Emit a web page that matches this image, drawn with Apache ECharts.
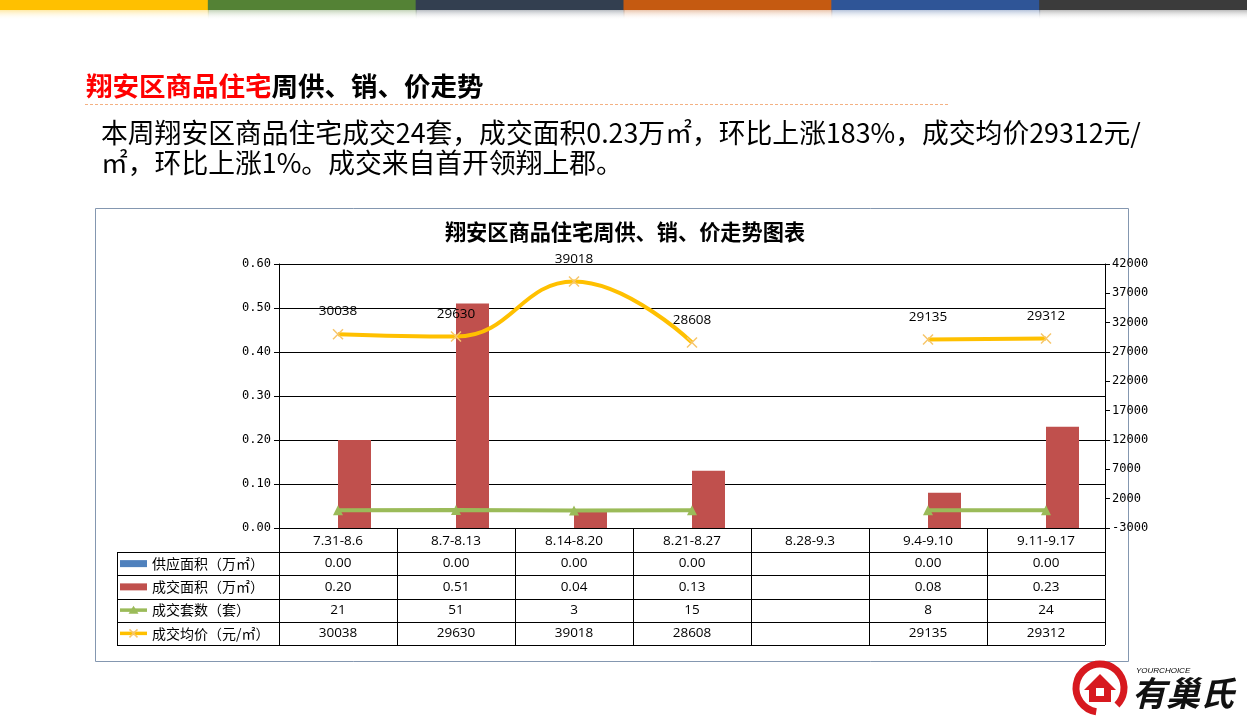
<!DOCTYPE html>
<html>
<head>
<meta charset="utf-8">
<script src="https://cdn.jsdelivr.net/npm/echarts@6/dist/echarts.min.js"></script>
<style>
html,body{margin:0;padding:0;background:#fff;}
#c{width:1247px;height:718px;}
</style>
</head>
<body>
<div id="c"></div>
<script>
// ---- data ----
const categories = ['7.31-8.6','8.7-8.13','8.14-8.20','8.21-8.27','8.28-9.3','9.4-9.10','9.11-9.17'];
const supplyArea = [0, 0, 0, 0, null, 0, 0];
const salesArea = [0.20, 0.51, 0.04, 0.13, null, 0.08, 0.23];
const salesUnits = [21, 51, 3, 15, null, 8, 24];
const avgPrice = [30038, 29630, 39018, 28608, null, 29135, 29312];
const seriesNames = ['供应面积（万㎡）', '成交面积（万㎡）', '成交套数（套）', '成交均价（元/㎡）'];
const leftAxis = {min: 0, max: 0.6, interval: 0.1};
const rightAxis = {min: -3000, max: 42000, interval: 5000};
const pageTitleRed = '翔安区商品住宅';
const pageTitleBlack = '周供、销、价走势';
const summaryLines = ['本周翔安区商品住宅成交24套，成交面积0.23万㎡，环比上涨183%，成交均价29312元/', '㎡，环比上涨1%。成交来自首开领翔上郡。'];
const chartTitle = '翔安区商品住宅周供、销、价走势图表';
const topBarColors = ['#FFC000', '#548235', '#333F50', '#C55A11', '#2F5597', '#3B3B3B'];

// ---- layout ----
const G = {left: 279, right: 1105, top: 264, bottom: 528};
const colW = (G.right - G.left) / categories.length;
const tableLeft = 117, tableBottom = 645;
const rowTop = 552, rowH = (tableBottom - rowTop) / 4;
const colors = ['#4F81BD', '#C0504D', '#9BBB59', '#FFC000'];
const xPath = 'path://M0,0L10,10M10,0L0,10';

const graphic = [];
// top stripes
const segW = 1247 / topBarColors.length;
topBarColors.forEach((c, i) => {
  graphic.push({type: 'rect', shape: {x: i * segW, y: 0, width: segW + 1, height: 10}, style: {fill: c}, silent: true});
  graphic.push({type: 'rect', shape: {x: i * segW, y: 10, width: segW + 1, height: 10},
    style: {fill: new echarts.graphic.LinearGradient(0, 0, 0, 1, [{offset: 0, color: c}, {offset: 1, color: 'rgba(255,255,255,0)'}]), opacity: 0.35}, silent: true});
});
// page title
graphic.push({type: 'text', x: 86, y: 86, style: {
  text: '{r|' + pageTitleRed + '}{b|' + pageTitleBlack + '}',
  verticalAlign: 'middle',
  rich: {
    r: {fill: '#FF0000', fontSize: 26.5, fontWeight: 'bold', fontFamily: 'Noto Sans CJK SC'},
    b: {fill: '#000', fontSize: 26.5, fontWeight: 'bold', fontFamily: 'Noto Sans CJK SC'}
  }}});
graphic.push({type: 'line', shape: {x1: 85, y1: 104.5, x2: 948, y2: 104.5}, style: {stroke: '#F4B183', lineWidth: 1, lineDash: [3, 2]}});
// summary
summaryLines.forEach((t, i) => {
  graphic.push({type: 'text', x: 101, y: 133 + i * 30, style: {text: t, fill: '#000', fontSize: 26.8, fontFamily: 'Noto Sans CJK SC', verticalAlign: 'middle'}});
});
// chart box
graphic.push({type: 'rect', shape: {x: 95.5, y: 208.5, width: 1033, height: 453}, style: {fill: 'none', stroke: '#8497B0', lineWidth: 1}});
graphic.push({type: 'text', x: 625, y: 232, style: {text: chartTitle, fill: '#000', fontSize: 21.2, fontWeight: 'bold', fontFamily: 'Noto Sans CJK SC', align: 'center', verticalAlign: 'middle'}});
// table horizontal lines
for (let r = 0; r <= 4; r++) {
  const y = Math.round(rowTop + r * rowH) + 0.5;
  graphic.push({type: 'line', shape: {x1: tableLeft, y1: y, x2: G.right, y2: y}, style: {stroke: '#000', lineWidth: 1}});
}
graphic.push({type: 'line', shape: {x1: tableLeft + 0.5, y1: rowTop, x2: tableLeft + 0.5, y2: tableBottom + 1}, style: {stroke: '#000', lineWidth: 1}});
// table rows
const rowValues = [
  supplyArea.map(v => v == null ? '' : v.toFixed(2)),
  salesArea.map(v => v == null ? '' : v.toFixed(2)),
  salesUnits.map(v => v == null ? '' : String(v)),
  avgPrice.map(v => v == null ? '' : String(v))
];
seriesNames.forEach((name, r) => {
  const cy = rowTop + (r + 0.5) * rowH;
  if (r < 2) {
    graphic.push({type: 'rect', shape: {x: 120, y: cy - 3.5, width: 27, height: 7}, style: {fill: colors[r]}});
  } else {
    graphic.push({type: 'line', shape: {x1: 120, y1: cy, x2: 147, y2: cy}, style: {stroke: colors[r], lineWidth: 3.5}});
    if (r === 2) {
      graphic.push({type: 'polygon', shape: {points: [[133.5, cy - 4.5], [138.5, cy + 3.5], [128.5, cy + 3.5]]}, style: {fill: colors[r]}});
    } else {
      graphic.push({type: 'polyline', shape: {points: [[129.5, cy - 4], [137.5, cy + 4]]}, style: {stroke: '#F7C66B', lineWidth: 1.5}});
      graphic.push({type: 'polyline', shape: {points: [[137.5, cy - 4], [129.5, cy + 4]]}, style: {stroke: '#F7C66B', lineWidth: 1.5}});
    }
  }
  graphic.push({type: 'text', x: 152, y: cy, style: {text: name, fill: '#000', fontSize: 14, fontFamily: 'Noto Sans CJK SC', verticalAlign: 'middle'}});
  rowValues[r].forEach((t, j) => {
    graphic.push({type: 'text', x: G.left + (j + 0.5) * colW, y: cy, style: {text: t, fill: '#000', fontSize: 13.5, fontFamily: 'Open Sans', align: 'center', verticalAlign: 'middle'}});
  });
});
// logo
graphic.push({type: 'arc', shape: {cx: 1100, cy: 688, r: 24, startAngle: Math.PI * 0.55, endAngle: Math.PI * 2.25}, style: {stroke: '#D7191F', lineWidth: 7, fill: 'none'}});
graphic.push({type: 'polygon', shape: {points: [[1084, 690], [1100, 674], [1116, 690], [1111, 690], [1111, 702], [1089, 702], [1089, 690]]}, style: {fill: '#D7191F'}});
graphic.push({type: 'rect', shape: {x: 1096, y: 688, width: 8, height: 8}, style: {fill: '#fff'}});
graphic.push({type: 'text', x: 1136, y: 671, style: {text: 'YOURCHOICE', fill: '#000', fontSize: 8, fontStyle: 'italic', fontFamily: 'Liberation Sans', verticalAlign: 'middle'}});
graphic.push({type: 'text', x: 1132, y: 693, style: {text: '有巢氏', fill: '#111', fontSize: 34, fontWeight: 'bold', fontStyle: 'italic', fontFamily: 'Noto Sans CJK SC', verticalAlign: 'middle'}});

const chart = echarts.init(document.getElementById('c'), null, {renderer: 'canvas'});
chart.setOption({
  animation: false,
  backgroundColor: '#fff',
  grid: {left: G.left, top: G.top, width: G.right - G.left, height: G.bottom - G.top, containLabel: false},
  xAxis: {
    type: 'category', data: categories, boundaryGap: true,
    axisLine: {show: true, lineStyle: {color: '#000', width: 1}},
    axisTick: {show: true, interval: 0, length: tableBottom - G.bottom, lineStyle: {color: '#000'}},
    axisLabel: {interval: 0, margin: 6, color: '#000', fontSize: 13.5, fontFamily: 'Open Sans'},
    splitLine: {show: false}
  },
  yAxis: [{
    type: 'value', min: leftAxis.min, max: leftAxis.max, interval: leftAxis.interval, position: 'left',
    axisLine: {show: true, lineStyle: {color: '#000'}},
    axisTick: {show: true, length: 5, lineStyle: {color: '#000'}},
    axisLabel: {margin: 8, color: '#000', fontSize: 12, fontFamily: 'DejaVu Sans Mono', formatter: v => v.toFixed(2)},
    splitLine: {show: true, lineStyle: {color: '#000', width: 1}}
  }, {
    type: 'value', min: rightAxis.min, max: rightAxis.max, interval: rightAxis.interval, position: 'right',
    axisLine: {show: true, lineStyle: {color: '#000'}},
    axisTick: {show: true, length: 5, lineStyle: {color: '#000'}},
    axisLabel: {margin: 7, color: '#000', fontSize: 12, fontFamily: 'DejaVu Sans Mono', formatter: v => String(v)},
    splitLine: {show: false}
  }],
  series: [{
    name: seriesNames[0], type: 'bar', data: supplyArea, yAxisIndex: 0,
    barWidth: 33, barGap: '0%', itemStyle: {color: colors[0]}
  }, {
    name: seriesNames[1], type: 'bar', data: salesArea, yAxisIndex: 0,
    barWidth: 33, barGap: '0%', itemStyle: {color: colors[1]}
  }, {
    name: seriesNames[2], type: 'line', data: salesUnits, yAxisIndex: 1, z: 5,
    symbol: 'triangle', symbolSize: 10,
    lineStyle: {color: colors[2], width: 4}, itemStyle: {color: colors[2]}
  }, {
    name: seriesNames[3], type: 'line', data: avgPrice, yAxisIndex: 1, z: 6,
    smooth: 0.45, symbol: xPath, symbolSize: 10,
    lineStyle: {color: colors[3], width: 4},
    itemStyle: {color: 'rgba(0,0,0,0)', borderColor: '#F7C66B', borderWidth: 1.5},
    label: {show: true, position: 'top', distance: 10, color: '#000', fontSize: 13.5, fontFamily: 'Open Sans'}
  }],
  graphic: graphic
});
</script>
</body>
</html>
